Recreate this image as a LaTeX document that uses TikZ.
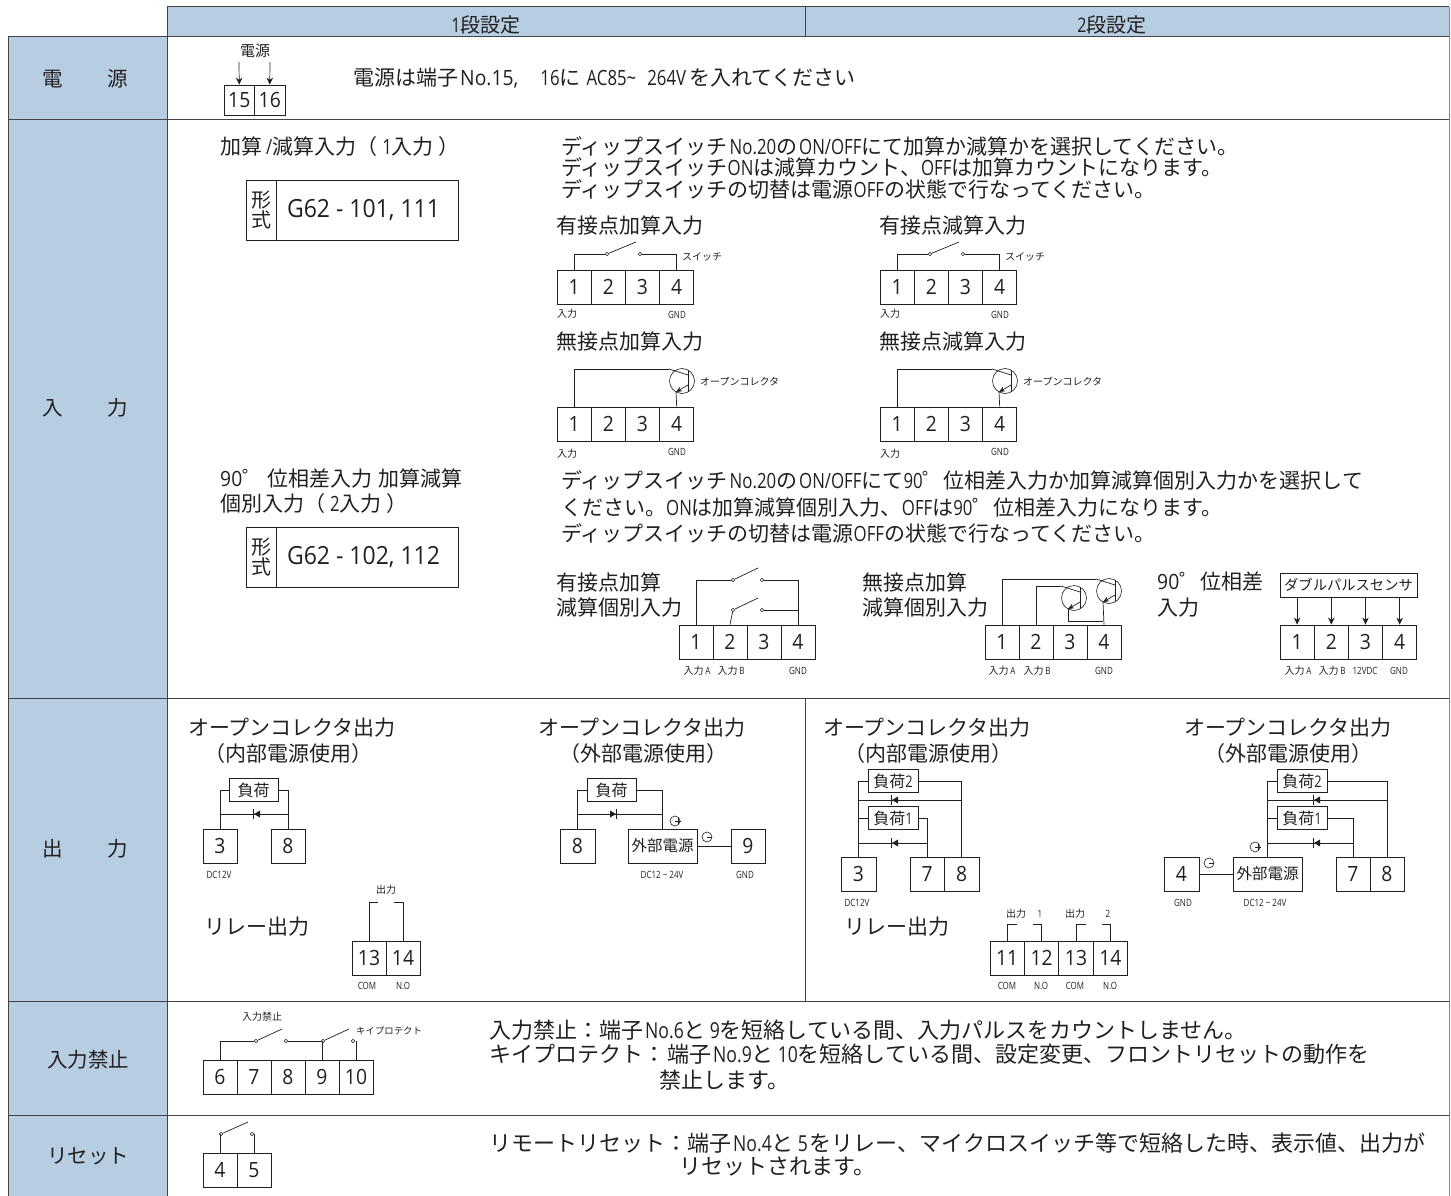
\documentclass[tikz,border=0pt]{standalone}
\usepackage{fontspec}
\setmainfont{Noto Sans CJK JP}
\newfontfamily\latinf[FakeStretch=0.92]{Open Sans}
\newfontfamily\nrxf[FakeStretch=0.8]{Open Sans}
\newcommand{\nx}[1]{{\nrxf #1}}
\newcommand{\nl}[1]{{\latinf #1}}
\usetikzlibrary{arrows.meta,calc}
\definecolor{ink}{HTML}{231F20}
\definecolor{band}{HTML}{B7CDE2}
\newcommand{\fs}[1]{\fontsize{#1}{#1}\selectfont}
\tikzset{
 x=1pt,y=-1pt,
 every node/.style={text=ink,inner sep=0pt},
 wire/.style={draw=ink,line width=0.7pt},
 grid line/.style={draw=ink!85,line width=1pt},
 title/.style={anchor=west,font=\fs{21}},
 body/.style={anchor=west,font=\fs{21}},
 bodyb/.style={anchor=west,font=\fs{22}},
 smalllab/.style={font=\fs{10}},
 rowhead/.style={font=\fs{20.5}},
 cell/.style={draw=ink,line width=0.8pt,rectangle,minimum height=34pt,font=\latinf\fs{21}},
 tagbox/.style={draw=ink,line width=0.8pt,rectangle,minimum height=23pt,font=\fs{16}},
 contact/.style={circle,draw=ink,line width=0.6pt,fill=white,minimum size=3.6pt},
 arr/.style={wire,-{Stealth[length=7pt,width=6.5pt]}},
}
% terminal row: prefix, left x, centre y, cell width, height, list
\newcommand{\termrow}[6]{%
 \foreach \lab [count=\i from 0] in {#6}{%
  \node[cell,minimum width=#4 pt,minimum height=#5 pt] (#1-\lab) at ({#2+#4*\i+#4/2},#3) {\lab};}}
% transistor: name, cx, cy
\newcommand{\transistor}[3]{%
 \node[circle,draw=ink,line width=0.6pt,minimum size=25pt] (#1) at (#2,#3) {};
 \coordinate (#1-c) at ({#2-13},{#3-12});
 \coordinate (#1-e) at ({#2-6},{#3+11});
 \draw[wire] ({#2+6},{#3-11}) -- ({#2+6},{#3+11});
 \draw[wire] (#1-c) -- ({#2+6},{#3-6});
 \draw[wire,-{Stealth[length=6pt,width=5pt]}] ({#2+6},{#3+4}) -- (#1-e);}
% diode: x, y, direction (-1 left, 1 right)
\newcommand{\diode}[3]{%
 \fill[ink] ({#1-3*#3},{#2-3.5}) -- ({#1+3*#3},#2) -- ({#1-3*#3},{#2+3.5}) -- cycle;
 \draw[ink,line width=0.8pt] ({#1+3.2*#3},{#2-5}) -- ({#1+3.2*#3},{#2+5});}
\newcommand{\plusmark}[2]{%
 \draw[ink,line width=0.6pt] (#1,#2) circle (5pt);
 \draw[ink,line width=0.6pt] (#1,#2) -- ({#1+6},#2) ({#1+3.5},{#2-3}) -- ({#1+3.5},{#2+3});}
\newcommand{\minusmark}[2]{%
 \draw[ink,line width=0.6pt] (#1,#2) circle (5pt);
 \draw[ink,line width=0.6pt] (#1,#2) -- ({#1+5},#2);}
% switch: name, left contact x, right contact x, y
\newcommand{\switch}[4]{%
 \node[contact] (#1-l) at (#2,#4) {};
 \node[contact] (#1-r) at (#3,#4) {};
 \coordinate (#1-tip) at ({#3-4},{#4-12});
 \draw[wire] (#1-l) -- (#1-tip);}
\begin{document}
\begin{tikzpicture}
\useasboundingbox (0,0) rectangle (1451,1196);
% ---------- table ----------
\fill[band] (167,7) rectangle (1449,37);
\fill[band] (8,37) rectangle (167,1196);
\draw[grid line] (167,7) -- (1449,7);
\draw[grid line] (167,7) -- (167,1196);
\draw[grid line] (8,37) -- (1449,37);
\draw[grid line] (8,37) -- (8,1196);
\draw[grid line] (805,7) -- (805,37);
\draw[draw=ink!55,line width=1pt] (1449,7) -- (1449,1196);
\foreach \yy in {120,698,1001,1115} \draw[grid line] (8,\yy) -- (1449,\yy);
\draw[grid line] (805,698) -- (805,1001);
\node[font=\fs{20}] (h1) at (486,25) {\nx{1}段設定};
\node[font=\fs{20}] (h2) at (1112,25) {\nx{2}段設定};
\node[rowhead] (r1) at (85.5,79) {電\hspace{2.15em}源};
\node[rowhead] (r2) at (85.5,408) {入\hspace{2.15em}力};
\node[rowhead] (r3) at (85.5,849) {出\hspace{2.15em}力};
\node[rowhead] (r4) at (88,1060) {入力禁止};
\node[rowhead] (r5) at (88,1156) {リセット};
% ---------- power ----------
\node[font=\fs{15}] (psrc) at (255,51) {電源};
\termrow{p}{224}{100}{30.5}{30}{15,16}
\coordinate (pa) at (239,62); \coordinate (pb) at (270,62);
\draw[arr] (pa) -- (p-15.north);
\draw[arr] (pb) -- (p-16.north);
\node[anchor=west,font=\fs{21}] (ptxt) at (353,78) {電源は端子\hspace{2pt}\nl{No.15,}\hspace{22pt}\nx{16}に\hspace{6pt}\nx{AC85\textasciitilde}\hspace{11pt}\nx{264V}\hspace{3pt}を入れてください};
% ---------- input: single ----------
\node[title] (a1) at (220,147) {加算\hspace{4pt}\nx{/}減算入力（\hspace{5pt}\nx{1}入力\hspace{5pt}）};
\node[draw=ink,line width=0.8pt,rectangle,minimum width=30pt,minimum height=60pt,font=\fs{20},align=center,text width=30pt] (ak) at (261,210) {\baselineskip=19pt\centering 形\\式};
\node[draw=ink,line width=0.8pt,rectangle,minimum width=182pt,minimum height=60pt,font=\latinf\fs{25}] (am) at (367,210) {G62 - 101, 111\hspace*{7pt}};
\node[body] (a2) at (561,146) {ディップスイッチ\hspace{2pt}\nx{No.20}の\hspace{2pt}\nx{ON/OFF}にて加算か減算かを選択してください。};
\node[body] (a3) at (561,167) {ディップスイッチ\nx{ON}は減算カウント、\nx{OFF}は加算カウントになります。};
\node[body] (a4) at (561,189) {ディップスイッチの切替は電源\nx{OFF}の状態で行なってください。};
\foreach \pre/\dx/\ttla/\ttlb in {u/0/有接点加算入力/無接点加算入力,v/323/有接点減算入力/無接点減算入力}{
 \node[title] (\pre-t1) at ({556+\dx},226) {\ttla};
 \node[title] (\pre-t2) at ({556+\dx},342) {\ttlb};
 \termrow{\pre}{557+\dx}{287}{34.2}{34}{1,2,3,4}
 \switch{\pre-sw}{607+\dx}{640+\dx}{254}
 \draw[wire] (\pre-1.north) |- (\pre-sw-l);
 \draw[wire] (\pre-4.north) |- (\pre-sw-r);
 \node[smalllab,anchor=west] (\pre-sl) at ({682+\dx},257) {スイッチ};
 \node[smalllab] (\pre-in) at ({567+\dx},314) {入力};
 \node[smalllab] (\pre-gn) at ({677+\dx},315) {\nx{GND}};
 \termrow{\pre b}{557+\dx}{424}{34.2}{34}{1,2,3,4}
 \transistor{\pre q}{682+\dx}{381}
 \draw[wire] (\pre b-1.north) |- (\pre q-c);
 \draw[wire] (\pre b-4.north) -- (\pre q-e);
 \node[smalllab,anchor=west] (\pre-ol) at ({700+\dx},382) {オープンコレクタ};
 \node[smalllab] (\pre-in2) at ({567+\dx},454) {入力};
 \node[smalllab] (\pre-gn2) at ({677+\dx},452) {\nx{GND}};
}
% ---------- input: double ----------
\node[title] (b1) at (220,479) {\nl{90}゜\hspace{4pt}位相差入力\hspace{6pt}加算減算};
\node[title] (b2) at (220,504) {個別入力（\hspace{5pt}\nx{2}入力\hspace{5pt}）};
\node[draw=ink,line width=0.8pt,rectangle,minimum width=30pt,minimum height=60pt,font=\fs{20},align=center,text width=30pt] (bk) at (261,557) {\baselineskip=19pt\centering 形\\式};
\node[draw=ink,line width=0.8pt,rectangle,minimum width=182pt,minimum height=60pt,font=\latinf\fs{25}] (bm) at (367,557) {G62 - 102, 112\hspace*{7pt}};
\node[body] (b3) at (561,480) {ディップスイッチ\hspace{2pt}\nx{No.20}の\hspace{2pt}\nx{ON/OFF}にて\nx{90}゜位相差入力か加算減算個別入力かを選択して};
\node[body] (b4) at (561,508) {ください。\nx{ON}は加算減算個別入力、\nx{OFF}は\nx{90}゜位相差入力になります。};
\node[body] (b5) at (561,533) {ディップスイッチの切替は電源\nx{OFF}の状態で行なってください。};
\node[title] (c1) at (556,582) {有接点加算};
\node[title] (c2) at (556,608) {減算個別入力};
\termrow{c}{679}{642}{34}{34}{1,2,3,4}
\switch{csa}{733}{762}{580}
\switch{csb}{733}{762}{610}
\draw[wire] (c-1.north) |- (csa-l);
\draw[wire] (c-4.north) |- (csa-r);
\draw[wire] (c-2.north) -- (csb-l);
\draw[wire] (csb-r) -| (c-4.north);
\foreach \lab/\xx/\nm in {入力\,\nx{A}/697/l1,入力\,\nx{B}/731/l2,\nx{GND}/798/l3}
 \node[smalllab] (c-\nm) at (\xx,671) {\lab};
\node[title] (d1) at (862,582) {無接点加算};
\node[title] (d2) at (862,608) {減算個別入力};
\termrow{d}{985}{642}{34}{34}{1,2,3,4}
\transistor{qa}{1074}{598}
\transistor{qb}{1109}{591}
\draw[wire] (d-1.north) |- (qb-c);
\draw[wire] (d-2.north) |- (qa-c);
\draw[wire] (qb-e) -- (d-4.north);
\draw[wire] (qa-e) |- (1103,621);
\foreach \lab/\xx/\nm in {入力\,\nx{A}/1002/l1,入力\,\nx{B}/1037/l2,\nx{GND}/1104/l3}
 \node[smalllab] (d-\nm) at (\xx,671) {\lab};
\node[title] (e1) at (1157,582) {\nl{90}゜位相差};
\node[title] (e2) at (1157,608) {入力};
\node[draw=ink,line width=0.8pt,rectangle,minimum width=137pt,minimum height=24pt,font=\fs{14.3}] (es) at (1348.5,585) {ダブルパルスセンサ};
\termrow{e}{1280}{642}{34.2}{34}{1,2,3,4}
\foreach \n in {1,2,3,4} \draw[arr] (e-\n.north |- es.south) -- (e-\n.north);
\foreach \lab/\xx/\nm in {入力\,\nx{A}/1298/l1,入力\,\nx{B}/1332/l2,\nx{12VDC}/1365/l3,\nx{GND}/1399/l4}
 \node[smalllab] (e-\nm) at (\xx,671) {\lab};
% ---------- output ----------
\foreach \nm/\cx in {o1/292,o2/642,o3/927,o4/1288}{
 \node[font=\fs{21}] (\nm-a) at (\cx,728) {オープンコレクタ出力};}
\node[font=\fs{21}] (o1-b) at (288,754) {（内部電源使用）};
\node[font=\fs{21}] (o2-b) at (643,754) {（外部電源使用）};
\node[font=\fs{21}] (o3-b) at (928,754) {（内部電源使用）};
\node[font=\fs{21}] (o4-b) at (1288,754) {（外部電源使用）};
% col 1
\node[tagbox,minimum width=49pt] (f-load) at (253.5,790) {負荷};
\termrow{f}{203}{846}{34}{34}{3}
\termrow{f}{271}{846}{34}{34}{8}
\draw[wire] (f-load.west) -| (f-3.north);
\draw[wire] (f-load.east) -| (f-8.north);
\coordinate (fda) at (f-3.north |- 0,814); \coordinate (fdb) at (f-8.north |- 0,814);
\draw[wire] (fda) -- (fdb);
\diode{257}{814}{-1}
\node[smalllab] (f-dc) at (219,875) {\nx{DC12V}};
\node[title] (f-r) at (204,927) {リレー出力};
\node[smalllab] (g-o) at (386,890) {出力};
\termrow{g}{352}{958}{34}{34}{13,14}
\coordinate (g-a) at (378,902); \coordinate (g-b) at (394,902);
\draw[wire] (g-13.north) |- (g-a);
\draw[wire] (g-14.north) |- (g-b);
\node[smalllab] (g-c) at (367,986) {\nx{COM}};
\node[smalllab] (g-n) at (403,986) {\nx{N.O}};
% col 2
\node[tagbox,minimum width=49pt] (h-load) at (611.5,790) {負荷};
\termrow{h}{560}{846}{35}{34}{8}
\node[draw=ink,line width=0.8pt,rectangle,minimum width=69pt,minimum height=34pt,font=\fs{15.5}] (h-ps) at (662.5,846) {外部電源};
\termrow{h}{731}{846}{34}{34}{9}
\draw[wire] (h-load.west) -| (h-8.north);
\draw[wire] (h-load.east) -| (h-ps.north);
\coordinate (hda) at (h-8.north |- 0,814); \coordinate (hdb) at (h-ps.north |- 0,814);
\draw[wire] (hda) -- (hdb);
\diode{613}{814}{1}
\draw[wire] (h-ps) -- (h-9);
\plusmark{675}{821}
\minusmark{707}{837}
\node[smalllab] (h-dc) at (662,875) {\nx{DC12 \textasciitilde\ 24V}};
\node[smalllab] (h-gn) at (745,875) {\nx{GND}};
% col 3
\node[tagbox,minimum width=50pt] (i-l2) at (893,781) {負荷\nx{2}};
\node[tagbox,minimum width=50pt] (i-l1) at (893,818) {負荷\nx{1}};
\termrow{i}{841}{874}{35}{34}{3}
\termrow{i}{910}{874}{34.5}{34}{7,8}
\draw[wire] (i-l2.west) -| (i-3.north);
\draw[wire] (i-l2.east) -| (i-8.north);
\draw[wire] (i-l1.west) -- (i-3.north |- i-l1.west);
\draw[wire] (i-l1.east) -| (i-7.north);
\coordinate (ida) at (i-3.north |- 0,800); \coordinate (idb) at (i-8.north |- 0,800);
\coordinate (idc) at (i-3.north |- 0,843); \coordinate (idd) at (i-7.north |- 0,843);
\draw[wire] (ida) -- (idb);
\draw[wire] (idc) -- (idd);
\diode{895}{800}{-1}
\diode{895}{843}{-1}
\node[smalllab] (i-dc) at (857,903) {\nx{DC12V}};
\node[title] (i-r) at (844,927) {リレー出力};
\foreach \lab/\xx/\nm in {出力/1016/p1,\nx{1}/1040/p2,出力/1075/p3,\nx{2}/1108/p4}
 \node[smalllab] (j-\nm) at (\xx,914) {\lab};
\termrow{j}{990}{958}{34.4}{34}{11,12,13,14}
\coordinate (j-a) at (1017,924); \coordinate (j-b) at (1033,924);
\coordinate (j-c) at (1086,924); \coordinate (j-d) at (1102,924);
\draw[wire] (j-11.north) |- (j-a);
\draw[wire] (j-12.north) |- (j-b);
\draw[wire] (j-13.north) |- (j-c);
\draw[wire] (j-14.north) |- (j-d);
\foreach \lab/\xx/\nm in {\nx{COM}/1007/c1,\nx{N.O}/1041/c2,\nx{COM}/1075/c3,\nx{N.O}/1110/c4}
 \node[smalllab] (j-\nm) at (\xx,986) {\lab};
% col 4
\node[tagbox,minimum width=50pt] (k-l2) at (1302,781) {負荷\nx{2}};
\node[tagbox,minimum width=50pt] (k-l1) at (1302,818) {負荷\nx{1}};
\termrow{k}{1164}{874}{35}{34}{4}
\node[draw=ink,line width=0.8pt,rectangle,minimum width=69pt,minimum height=34pt,font=\fs{15.5}] (k-ps) at (1267.5,874) {外部電源};
\termrow{k}{1336}{874}{34}{34}{7,8}
\draw[wire] (k-l2.west) -| (k-ps.north);
\draw[wire] (k-l2.east) -| (k-8.north);
\draw[wire] (k-l1.west) -- (k-ps.north |- k-l1.west);
\draw[wire] (k-l1.east) -| (k-7.north);
\coordinate (kda) at (k-ps.north |- 0,800); \coordinate (kdb) at (k-8.north |- 0,800);
\coordinate (kdc) at (k-ps.north |- 0,843); \coordinate (kdd) at (k-7.north |- 0,843);
\draw[wire] (kda) -- (kdb);
\draw[wire] (kdc) -- (kdd);
\diode{1317}{800}{-1}
\diode{1317}{843}{-1}
\draw[wire] (k-4) -- (k-ps);
\plusmark{1255}{847}
\minusmark{1209}{863}
\node[smalllab] (k-gn) at (1183,903) {\nx{GND}};
\node[smalllab] (k-dc) at (1265,903) {\nx{DC12 \textasciitilde\ 24V}};
% ---------- inhibit ----------
\node[smalllab] (m-o) at (262,1017) {入力禁止};
\termrow{m}{203}{1077}{34}{34}{6,7,8,9,10}
\switch{msa}{256}{286}{1041}
\switch{msb}{323}{353}{1041}
\draw[wire] (m-6.north) |- (msa-l);
\draw[wire] (msa-r) -- (msb-l);
\draw[wire] (m-9.north) -- (m-9.north |- msb-l);
\draw[wire] (m-10.north) -- (m-10.north |- msb-r);
\node[smalllab,anchor=west,font=\fs{9.4}] (m-k) at (356,1031) {キイプロテクト};
\node[bodyb] (m1) at (489,1030) {入力禁止：端子\hspace{2pt}\nx{No.6}と\hspace{4pt}\nx{9}を短絡している間、入力パルスをカウントしません。};
\node[bodyb] (m2) at (489,1054) {キイプロテクト：\hspace{2pt}端子\hspace{2pt}\nx{No.9}と\hspace{4pt}\nx{10}を短絡している間、設定変更、フロントリセットの動作を};
\node[bodyb] (m3) at (659,1080) {禁止します。};
% ---------- reset ----------
\termrow{n}{203}{1170}{34}{34}{4,5}
\switch{nsa}{221}{252}{1134}
\draw[wire] (n-4.north) -- (n-4.north |- nsa-l);
\draw[wire] (n-5.north) -- (n-5.north |- nsa-r);
\node[bodyb] (n1) at (489,1143) {リモートリセット：端子\hspace{2pt}\nx{No.4}と\hspace{4pt}\nx{5}\hspace{2pt}をリレー、マイクロスイッチ等で短絡した時、表示値、出力が};
\node[bodyb] (n2) at (679,1167) {リセットされます。};
\end{tikzpicture}
\end{document}
